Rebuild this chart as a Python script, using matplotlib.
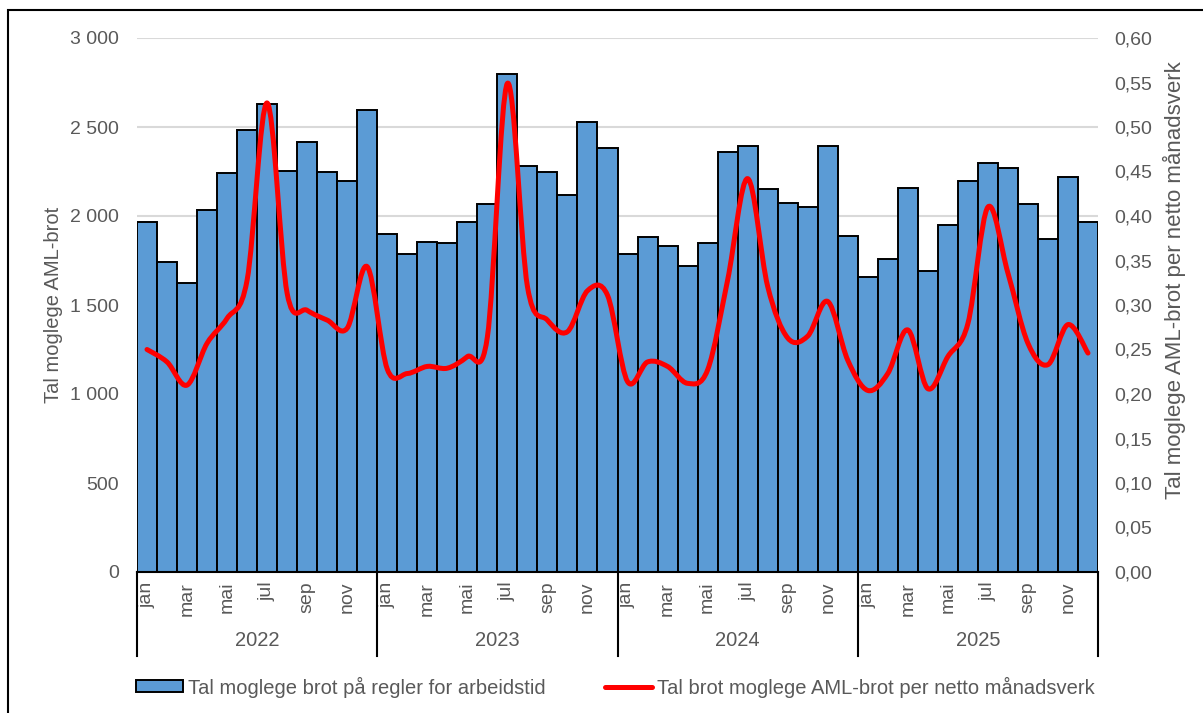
import matplotlib
matplotlib.use('Agg')
import matplotlib.pyplot as plt
from matplotlib.patches import Patch, PathPatch, Rectangle
from matplotlib.lines import Line2D
from matplotlib.path import Path
from matplotlib.ticker import FuncFormatter
import matplotlib.transforms as mtransforms
import numpy as np

plt.rcParams['font.family'] = ['Liberation Sans', 'DejaVu Sans']

BAR_COLOR = '#5B9BD5'
LINE_COLOR = '#FF0000'
TEXT_COLOR = '#595959'
GRID_COLOR = '#D9D9D9'

years = ['2022', '2023', '2024', '2025']
months = ['jan', 'feb', 'mar', 'apr', 'mai', 'jun', 'jul', 'aug', 'sep', 'okt', 'nov', 'des']

# Tal moglege brot på regler for arbeidstid (left axis)
breaches = [
    1968, 1743, 1625, 2035, 2240, 2481, 2629, 2255, 2414, 2245, 2195, 2597,
    1901, 1788, 1854, 1850, 1966, 2069, 2796, 2281, 2245, 2116, 2528, 2380,
    1785, 1882, 1833, 1719, 1850, 2361, 2391, 2150, 2075, 2052, 2391, 1888,
    1659, 1758, 2155, 1693, 1949, 2195, 2298, 2272, 2067, 1871, 2221, 1968,
]
# Tal brot moglege AML-brot per netto månadsverk (right axis)
per_manadsverk = [
    0.250, 0.236, 0.210, 0.257, 0.285, 0.328, 0.527, 0.313, 0.294, 0.283, 0.274, 0.343,
    0.228, 0.223, 0.231, 0.229, 0.242, 0.264, 0.549, 0.321, 0.283, 0.270, 0.316, 0.311,
    0.214, 0.236, 0.231, 0.212, 0.227, 0.328, 0.442, 0.321, 0.263, 0.265, 0.304, 0.238,
    0.204, 0.223, 0.272, 0.206, 0.242, 0.279, 0.410, 0.336, 0.257, 0.233, 0.278, 0.246,
]

x = np.arange(len(breaches))

fig = plt.figure(figsize=(12.03, 7.13), dpi=100)
ax = fig.add_axes([137 / 1203, 1 - 572 / 713, (1098 - 137) / 1203, (572 - 38) / 713])
ax2 = ax.twinx()

ax.bar(x, breaches, width=1.0, color=BAR_COLOR, edgecolor='black', linewidth=1.4, zorder=2)
ax.set_xlim(-0.5, len(breaches) - 0.5)
ax.set_ylim(0, 3000)
ax.set_yticks(np.arange(0, 3001, 500))
ax.yaxis.set_major_formatter(FuncFormatter(lambda v, p: f'{int(v):,}'.replace(',', ' ')))
ax.yaxis.grid(True, color=GRID_COLOR, linewidth=1.5, zorder=0)
ax.set_axisbelow(True)

# Smoothed line (Catmull-Rom as cubic Bezier segments in data coordinates)
pts = np.column_stack([x, per_manadsverk]).astype(float)
padded = np.vstack([pts[0], pts, pts[-1]])
verts = [tuple(pts[0])]
codes = [Path.MOVETO]
for i in range(len(pts) - 1):
    p0, p1, p2, p3 = padded[i], padded[i + 1], padded[i + 2], padded[i + 3]
    c1 = p1 + (p2 - p0) / 6
    c2 = p2 - (p3 - p1) / 6
    verts += [tuple(c1), tuple(c2), tuple(p2)]
    codes += [Path.CURVE4] * 3
ax2.add_patch(PathPatch(Path(verts, codes), facecolor='none', edgecolor=LINE_COLOR,
                        linewidth=3.6, capstyle='round', joinstyle='round', zorder=3))
ax2.set_ylim(0, 0.6)
ax2.set_yticks(np.arange(0, 0.601, 0.05))
ax2.yaxis.set_major_formatter(FuncFormatter(lambda v, p: f'{v:.2f}'.replace('.', ',')))

for a in (ax, ax2):
    for side in ('left', 'right', 'top', 'bottom'):
        a.spines[side].set_visible(False)
ax.spines['bottom'].set_visible(True)
ax.spines['bottom'].set_color('black')
ax.spines['bottom'].set_linewidth(1.5)

ax.tick_params(axis='y', length=0, pad=13, labelsize=14, colors=TEXT_COLOR)
ax2.tick_params(axis='y', length=0, pad=12, labelsize=14, colors=TEXT_COLOR)

# Month labels (every other month) and year groups
month_labels = [months[i % 12] for i in x]
ax.set_xticks(x[::2])
ax.set_xticklabels(month_labels[::2], rotation=90, va='top', ha='center')
ax.tick_params(axis='x', length=0, pad=7, labelsize=14, colors=TEXT_COLOR)

trans = mtransforms.blended_transform_factory(ax.transData, ax.transAxes)
sep_bottom = -(656 - 572) / 534
for k, yr in enumerate(years):
    ax.text(12 * k + 5.5, -(641 - 572) / 534, yr, transform=trans, ha='center', va='center',
            fontsize=14.5, color=TEXT_COLOR)
for k in range(len(years) + 1):
    ax.add_line(Line2D([12 * k - 0.5, 12 * k - 0.5], [0, sep_bottom], transform=trans,
                       color='black', linewidth=1.5, clip_on=False))

ax.set_ylabel('Tal moglege AML-brot', fontsize=14.5, color=TEXT_COLOR)
ax.yaxis.set_label_coords(-0.077, 0.5)
ax2.set_ylabel('Tal moglege AML-brot per netto månadsverk', fontsize=16, color=TEXT_COLOR)
ax2.yaxis.set_label_coords(1.067, 0.547)

handles = [Patch(facecolor=BAR_COLOR, edgecolor='black', linewidth=1.4),
           Line2D([0], [0], color=LINE_COLOR, linewidth=3.6, solid_capstyle='round')]
labels = ['Tal moglege brot på regler for arbeidstid',
          'Tal brot moglege AML-brot per netto månadsverk']
leg = fig.legend(handles, labels, loc='center', bbox_to_anchor=(615.5 / 1203, 1 - 687 / 713),
                 ncol=2, frameon=False, fontsize=14.5, handlelength=2.34, handleheight=0.55,
                 handletextpad=0.25, columnspacing=2.95, borderpad=0)
for t in leg.get_texts():
    t.set_color(TEXT_COLOR)

fig.patches.append(Rectangle((8 / 1203, -0.02), 1.1, 1 - 10 / 713 + 0.02, transform=fig.transFigure,
                             fill=False, edgecolor='black', linewidth=1.5))

fig.savefig('out.png', dpi=100)
